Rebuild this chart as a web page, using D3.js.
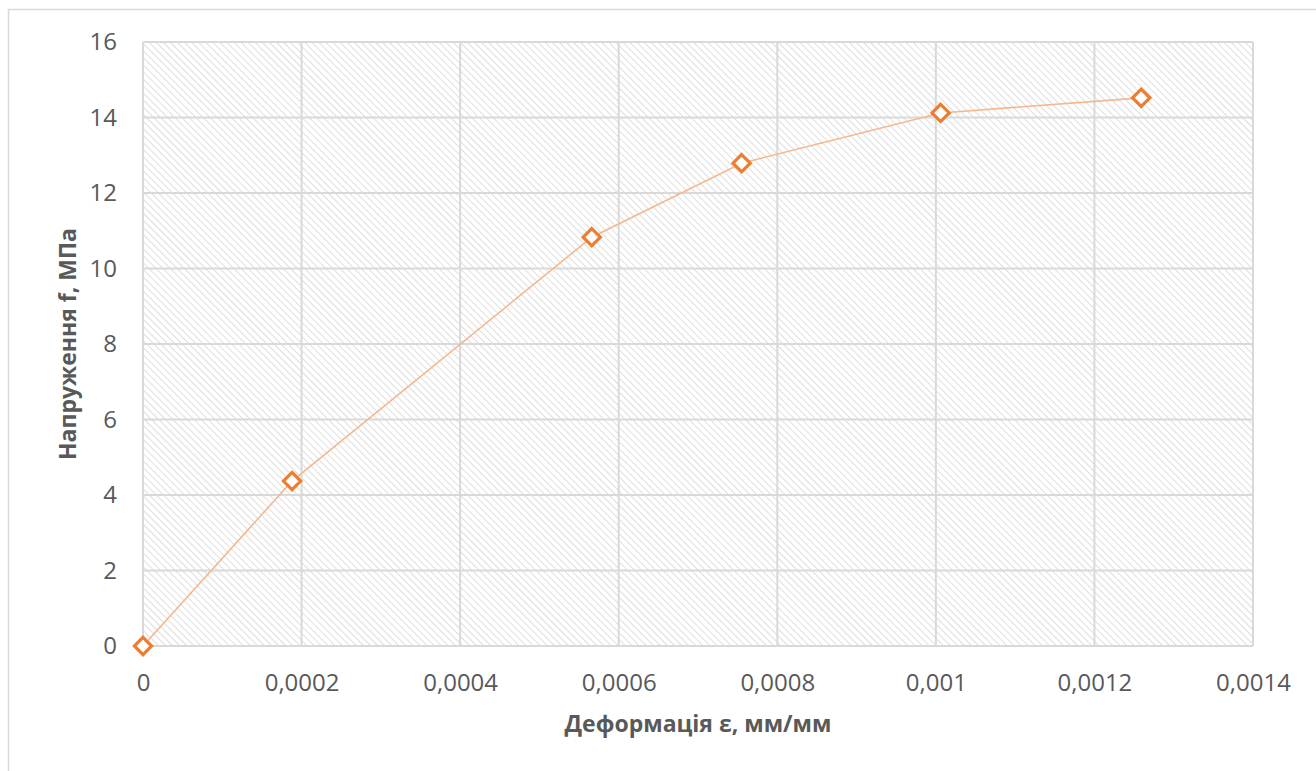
<!DOCTYPE html>
<html>
<head>
<meta charset="utf-8">
<script src="https://cdn.jsdelivr.net/npm/d3@7"></script>
<style>
  body { margin: 0; background: #fff; }
  text { font-family: "Open Sans", "Noto Sans", sans-serif; fill: #595959; }
</style>
</head>
<body>
<script>
// data
let strain = [0, 0.000188, 0.000566, 0.000755, 0.001006, 0.001259];
let stress = [0, 4.37, 10.83, 12.79, 14.12, 14.52];
let xTicks = [0, 0.0002, 0.0004, 0.0006, 0.0008, 0.001, 0.0012, 0.0014];
let yTicks = [0, 2, 4, 6, 8, 10, 12, 14, 16];
let xTitle = "Деформація ε, мм/мм";
let yTitle = "Напруження f, МПа";

let width = 1316;
let height = 771;
let margin = {left: 143, top: 42, right: 1316 - 1253, bottom: 771 - 646};

let svg = d3.select("body").append("svg")
    .attr("width", width)
    .attr("height", height);

// hatch pattern for the plot area
let defs = svg.append("defs");
let pat = defs.append("pattern")
    .attr("id", "hatch")
    .attr("patternUnits", "userSpaceOnUse")
    .attr("width", 5)
    .attr("height", 5)
    .attr("patternTransform", "rotate(-45)");
pat.append("rect").attr("width", 5).attr("height", 5).attr("fill", "#fff");
pat.append("line")
    .attr("x1", 0).attr("y1", 0).attr("x2", 0).attr("y2", 5)
    .attr("stroke", "#dedede")
    .attr("stroke-width", 2);

// chart frame
svg.append("rect")
    .attr("x", 8.5).attr("y", 9.5)
    .attr("width", width).attr("height", height)
    .attr("fill", "none")
    .attr("stroke", "#d9d9d9")
    .attr("stroke-width", 1.5);

let x = d3.scaleLinear().domain([0, 0.0014]).range([margin.left, width - margin.right]);
let y = d3.scaleLinear().domain([0, 16]).range([height - margin.bottom, margin.top]);

svg.append("rect")
    .attr("x", x(0)).attr("y", y(16))
    .attr("width", x(0.0014) - x(0))
    .attr("height", y(0) - y(16))
    .attr("fill", "url(#hatch)");

// gridlines
let grid = svg.append("g");
grid.selectAll(".vx")
    .data(xTicks)
    .enter().append("line")
    .attr("x1", d => x(d)).attr("x2", d => x(d))
    .attr("y1", y(0)).attr("y2", y(16))
    .attr("stroke", "#d9d9d9")
    .attr("stroke-width", 2);
grid.selectAll(".hy")
    .data(yTicks)
    .enter().append("line")
    .attr("x1", x(0)).attr("x2", x(0.0014))
    .attr("y1", d => y(d)).attr("y2", d => y(d))
    .attr("stroke", "#d9d9d9")
    .attr("stroke-width", 2);

// axes, Excel-style (no domain, no ticks)
let fmtX = d => d === 0 ? "0" : d3.format(".4f")(d).replace(/0+$/, "").replace(".", ",");

let xAxis = svg.append("g")
    .attr("transform", "translate(0," + y(0) + ")")
    .call(d3.axisBottom(x).tickValues(xTicks).tickFormat(fmtX).tickSize(0).tickPadding(28));
xAxis.select(".domain").remove();
xAxis.selectAll("text")
    .style("font-size", "24px")
    .style("fill", "#595959");

let yAxis = svg.append("g")
    .attr("transform", "translate(" + x(0) + ",0)")
    .call(d3.axisLeft(y).tickValues(yTicks).tickSize(0).tickPadding(26));
yAxis.select(".domain").remove();
yAxis.selectAll("text")
    .style("font-size", "24px")
    .style("fill", "#595959");

// axis titles
svg.append("text")
    .attr("x", 698).attr("y", 732)
    .attr("text-anchor", "middle")
    .style("font-size", "23px")
    .attr("font-weight", "bold")
    .text(xTitle);

svg.append("text")
    .attr("transform", "translate(76," + 344 + ") rotate(-90)")
    .attr("text-anchor", "middle")
    .style("font-size", "23px")
    .attr("font-weight", "bold")
    .text(yTitle);

// series
let points = strain.map((s, i) => ({x: s, y: stress[i]}));

let line = d3.line()
    .x(d => x(d.x))
    .y(d => y(d.y));

svg.append("path")
    .datum(points)
    .attr("d", line)
    .attr("fill", "none")
    .attr("stroke", "#f5b78d")
    .attr("stroke-width", 1.6);

svg.selectAll(".pt")
    .data(points)
    .enter().append("path")
    .attr("transform", d => "translate(" + x(d.x) + "," + y(d.y) + ")")
    .attr("d", d3.symbol().type(d3.symbolDiamond2).size(190))
    .attr("fill", "#fff")
    .attr("stroke", "#ed7d31")
    .attr("stroke-width", 3.2);
</script>
</body>
</html>
